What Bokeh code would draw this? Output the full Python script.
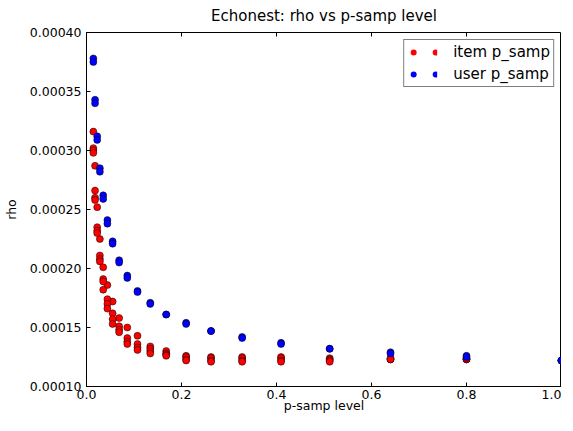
from bokeh.plotting import figure
from bokeh.models import (Range1d, LinearAxis, FixedTicker, PrintfTickFormatter,
                          Legend, LegendItem, ColumnDataSource, CustomLabelingPolicy)
from bokeh.embed import file_html
from bokeh.resources import INLINE

# p-sampling levels (x values), from 1.0 down
levels = [1.0, 0.8, 0.64, 0.512, 0.4096, 0.32768, 0.262144, 0.209715, 0.167772,
          0.134218, 0.107374, 0.085899, 0.068719, 0.054976, 0.043980, 0.035184,
          0.028147, 0.022518, 0.018014, 0.014412]

# item p_samp: four runs per level
item_run1 = [0.000122, 0.000123, 0.000123, 0.000124, 0.000125, 0.000125, 0.000125, 0.000126,
             0.000130, 0.000134, 0.000143, 0.000150, 0.000158, 0.000172, 0.000186, 0.000201,
             0.000225, 0.000252, 0.000287, 0.000316]
item_run2 = [0.000122, 0.000123, 0.000123, 0.000123, 0.000124, 0.000124, 0.000124, 0.000125,
             0.000128, 0.000132, 0.000136, 0.000141, 0.000151, 0.000162, 0.000174, 0.000191,
             0.000211, 0.000235, 0.000266, 0.000302]
item_run3 = [0.000122, 0.000123, 0.000124, 0.000122, 0.000122, 0.000122, 0.000122, 0.000123,
             0.000127, 0.000130, 0.000133, 0.000138, 0.000148, 0.000157, 0.000170, 0.000189,
             0.000208, 0.000232, 0.000260, 0.000300]
item_run4 = [0.000122, 0.000124, 0.000123, 0.000121, 0.000121, 0.000121, 0.000121, 0.000122,
             0.000126, 0.000128, 0.000131, 0.000136, 0.000146, 0.000153, 0.000166, 0.000182,
             0.000206, 0.000230, 0.000258, 0.000298]

# user p_samp: two runs per level
user_run1 = [0.000122, 0.000126, 0.000129, 0.000132, 0.000137, 0.000142, 0.000147, 0.000154,
             0.000161, 0.000171, 0.000181, 0.000194, 0.000207, 0.000223, 0.000241, 0.000262,
             0.000285, 0.000312, 0.000343, 0.000378]
user_run2 = [0.000122, 0.000125, 0.000128, 0.000132, 0.000136, 0.000141, 0.000147, 0.000153,
             0.000161, 0.000170, 0.000180, 0.000192, 0.000205, 0.000221, 0.000238, 0.000259,
             0.000282, 0.000309, 0.000340, 0.000375]

x_ticks = [0.0, 0.2, 0.4, 0.6, 0.8, 1.0]
y_ticks = [0.00010, 0.00015, 0.00020, 0.00025, 0.00030, 0.00035, 0.00040]

FONT = "DejaVu Sans"
NAN = float("nan")

item_src = ColumnDataSource(dict(x=levels * 4,
                                 y=item_run1 + item_run2 + item_run3 + item_run4))
user_src = ColumnDataSource(dict(x=levels * 2, y=user_run1 + user_run2))

p = figure(width=561, height=415, output_backend="svg", toolbar_location=None,
           x_range=Range1d(0.0, 1.0), y_range=Range1d(0.0001, 0.0004),
           min_border_left=75, min_border_right=0, min_border_top=0, min_border_bottom=0)

p.title.text = "Echonest: rho vs p-samp level"
p.title.text_font = FONT
p.title.text_font_size = "15px"
p.title.text_font_style = "normal"
p.title.text_color = "black"
p.title.align = "center"
p.title.standoff = 8

p.xgrid.visible = False
p.ygrid.visible = False
p.outline_line_color = "black"
p.outline_line_width = 1
p.background_fill_color = "white"
p.border_fill_color = "white"

for ax, ticks, fmt in ((p.xaxis[0], x_ticks, "%.1f"), (p.yaxis[0], y_ticks, "%.5f")):
    ax.ticker = FixedTicker(ticks=ticks)
    ax.formatter = PrintfTickFormatter(format=fmt)
    ax.major_tick_in = 4
    ax.major_tick_out = 0
    ax.minor_tick_in = 0
    ax.minor_tick_out = 0
    ax.major_tick_line_color = "black"
    ax.axis_line_color = "black"
    ax.major_label_text_font = FONT
    ax.major_label_text_font_size = "12.5px"
    ax.major_label_text_color = "black"
    ax.axis_label_text_font = FONT
    ax.axis_label_text_font_size = "12.5px"
    ax.axis_label_text_font_style = "normal"
    ax.axis_label_text_color = "black"

p.xaxis[0].axis_label = "p-samp level"
p.xaxis[0].major_label_standoff = 3
p.xaxis[0].axis_label_standoff = -4
p.yaxis[0].axis_label = "rho"
p.yaxis[0].major_label_standoff = 5
p.yaxis[0].axis_label_standoff = 8

# mirrored ticks on top (labels suppressed)
hide_all = CustomLabelingPolicy(code="return new Set()")
top_axis = LinearAxis(ticker=FixedTicker(ticks=x_ticks), major_tick_in=4, major_tick_out=0,
                      minor_tick_in=0, minor_tick_out=0, axis_line_color=None,
                      major_tick_line_color="black", major_label_text_font_size="1px",
                      major_label_standoff=0, major_label_policy=hide_all,
                      axis_label_standoff=0)
p.add_layout(top_axis, "above")

p.scatter("x", "y", source=item_src, size=7, fill_color="#ff0000",
          line_color="black", line_width=0.5)
p.scatter("x", "y", source=user_src, size=7, fill_color="#0000ff",
          line_color="black", line_width=0.5)

# legend glyphs: two dots per entry (like matplotlib numpoints=2); no visible data
leg_item = p.line(x=[NAN], y=[NAN], line_color="#ff0000", line_width=6, line_cap="round",
                  line_dash="0 22", line_dash_offset=16)
leg_user = p.line(x=[NAN], y=[NAN], line_color="#0000ff", line_width=6, line_cap="round",
                  line_dash="0 22", line_dash_offset=16)

legend = Legend(items=[LegendItem(label="item p_samp", renderers=[leg_item]),
                       LegendItem(label="user p_samp", renderers=[leg_user])],
                location="top_right", margin=7, padding=3, spacing=4,
                glyph_width=30, glyph_height=16, label_height=16, label_standoff=16,
                label_text_font=FONT, label_text_font_size="15px", label_text_color="black",
                border_line_color="black", border_line_width=1,
                background_fill_color="white", background_fill_alpha=1.0)
p.add_layout(legend, "center")

open("out.html", "w").write(file_html(p, INLINE))
